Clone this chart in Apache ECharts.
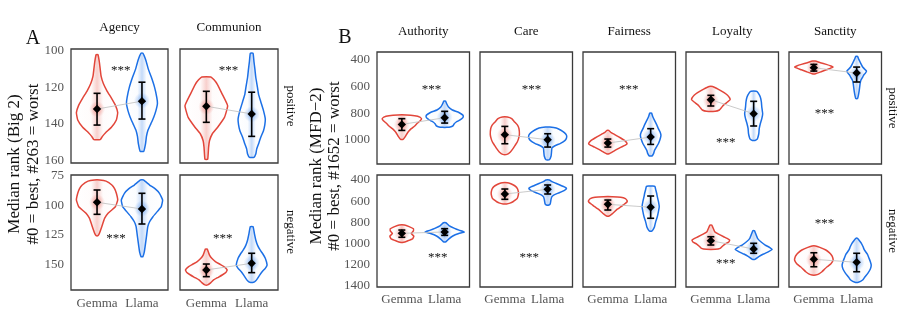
<!DOCTYPE html>
<html><head><meta charset="utf-8">
<script src="https://cdn.jsdelivr.net/npm/echarts@6/dist/echarts.min.js"></script>
<style>html,body{margin:0;padding:0;background:#fff}#c{width:914px;height:335px}</style>
</head><body><div id="c"></div><script>
// ---------- categories / labels ----------
const models = ['Gemma', 'Llama'];
const big2Traits = ['Agency', 'Communion'];
const mfdTraits = ['Authority', 'Care', 'Fairness', 'Loyalty', 'Sanctity'];
const valences = ['positive', 'negative'];
const big2Ticks = [[100, 120, 140, 160], [75, 100, 125, 150]];
const mfdTicks = [[400, 600, 800, 1000], [400, 600, 800, 1000, 1200, 1400]];
const big2Range = [[99.1, 161.6], [74.4, 171.8]];
const mfdRange = [[340, 1180], [352.8, 1409]];

// ---------- violin outlines: [median rank, half width (category units)] ----------
const agencyPosGemma = [[102.2,0.02],[106,0.05],[110,0.07],[114,0.09],[118,0.14],[122,0.22],[126,0.32],[130,0.41],[134,0.46],[138,0.43],[142,0.32],[145,0.19],[147,0.12],[148.8,0.07]];
const agencyPosLlama = [[101.4,0.02],[105.5,0.09],[110,0.14],[114.6,0.21],[120,0.28],[125.6,0.33],[129,0.345],[133,0.31],[136.6,0.26],[140,0.2],[143.9,0.13],[147,0.1],[151,0.08],[155.2,0.04]];
const communionPosGemma = [[114.4,0.1],[116,0.17],[118.3,0.24],[123.8,0.35],[130.2,0.47],[136.6,0.40],[142,0.25],[145.7,0.13],[149.4,0.07],[153,0.05],[159.6,0.03]];
const communionPosLlama = [[101.4,0.03],[106,0.05],[110,0.07],[114.6,0.09],[119,0.12],[123.8,0.15],[128,0.2],[132.9,0.26],[137.5,0.30],[140.5,0.29],[143.9,0.26],[147.5,0.2],[151.2,0.15],[154,0.11],[156.7,0.09],[158.5,0.05]];
const agencyNegGemma = [[78.6,0.06],[79.6,0.2],[82.9,0.33],[86,0.39],[89.9,0.43],[95.6,0.46],[101.2,0.41],[104,0.33],[106.8,0.245],[111,0.17],[115.3,0.13],[121,0.08],[124,0.05],[125.8,0.02]];
const agencyNegLlama = [[78.6,0.03],[82.9,0.17],[86,0.29],[89.9,0.39],[95.6,0.46],[101.2,0.43],[105,0.35],[109.7,0.245],[114,0.17],[118.2,0.13],[126.7,0.10],[135.1,0.07],[140,0.05],[143.6,0.02]];
const communionNegGemma = [[137.1,0.02],[142.2,0.07],[145,0.12],[147.8,0.2],[150,0.3],[152,0.39],[154.8,0.46],[157,0.43],[159.1,0.35],[161.3,0.25],[163.3,0.16],[165.5,0.1],[167.5,0.03]];
const communionNegLlama = [[118.2,0.03],[124,0.06],[129.4,0.09],[134,0.13],[137.9,0.185],[141.5,0.25],[144.9,0.30],[150.6,0.34],[153.5,0.3],[156.3,0.23],[159,0.18],[161.9,0.13],[164,0.09],[165.3,0.04]];

const authorityPosGemma = [[812,0.1],[818,0.3],[828,0.42],[842,0.46],[855,0.43],[878,0.35],[895,0.3],[915,0.22],[935,0.16],[953,0.12],[975,0.08],[995,0.03]];
const authorityPosLlama = [[708,0.02],[730,0.05],[753,0.09],[775,0.18],[790,0.31],[805,0.39],[815,0.43],[830,0.43],[840,0.40],[855,0.33],[865,0.27],[880,0.22],[892,0.2],[900,0.15],[905,0.05]];
const carePosGemma = [[828,0.06],[840,0.16],[865,0.23],[890,0.3],[915,0.33],[958,0.34],[990,0.32],[1015,0.29],[1040,0.24],[1065,0.19],[1090,0.13],[1108,0.05]];
const carePosLlama = [[903,0.05],[910,0.2],[925,0.3],[945,0.39],[965,0.44],[985,0.44],[1005,0.40],[1025,0.3],[1045,0.16],[1060,0.1],[1090,0.09],[1120,0.08],[1148,0.04]];
const fairnessPosGemma = [[928,0.02],[945,0.08],[965,0.19],[985,0.3],[1003,0.39],[1028,0.45],[1040,0.4],[1053,0.31],[1068,0.22],[1083,0.14],[1095,0.08],[1103,0.03]];
const fairnessPosLlama = [[798,0.02],[825,0.05],[853,0.09],[885,0.14],[915,0.18],[940,0.22],[965,0.24],[995,0.22],[1028,0.18],[1055,0.13],[1078,0.09],[1100,0.07],[1120,0.03]];
const loyaltyPosGemma = [[598,0.04],[612,0.13],[628,0.22],[645,0.31],[665,0.39],[685,0.44],[698,0.45],[715,0.39],[740,0.29],[760,0.24],[775,0.2],[785,0.1]];
const loyaltyPosLlama = [[635,0.06],[645,0.1],[678,0.155],[715,0.18],[753,0.19],[803,0.21],[840,0.19],[878,0.155],[915,0.13],[953,0.12],[980,0.1],[995,0.08],[1003,0.03]];
const sanctityPosGemma = [[408,0.03],[420,0.15],[433,0.29],[445,0.4],[453,0.45],[463,0.38],[473,0.29],[488,0.17],[503,0.04]];
const sanctityPosLlama = [[373,0.02],[395,0.05],[415,0.08],[435,0.11],[453,0.14],[470,0.19],[483,0.23],[500,0.2],[515,0.16],[528,0.14],[550,0.1],[578,0.08],[628,0.06],[665,0.04],[690,0.02]];

const authorityNegGemma = [[824,0.06],[840,0.17],[860,0.27],[880,0.27],[905,0.22],[930,0.28],[955,0.25],[975,0.13],[988,0.04]];
const authorityNegLlama = [[803,0.03],[830,0.1],[856,0.23],[875,0.35],[890,0.46],[905,0.33],[928,0.19],[955,0.1],[982,0.03]];
const careNegGemma = [[425,0.06],[435,0.14],[447,0.2],[460,0.25],[478,0.29],[500,0.31],[525,0.32],[550,0.31],[573,0.29],[590,0.24],[605,0.19],[618,0.12],[626,0.04]];
const careNegLlama = [[400,0.04],[415,0.1],[431,0.19],[450,0.3],[465,0.39],[478,0.44],[495,0.4],[520,0.27],[540,0.15],[557,0.1],[580,0.08],[605,0.07],[625,0.06],[636,0.03]];
const fairnessNegGemma = [[557,0.1],[562,0.3],[575,0.41],[595,0.45],[605,0.45],[620,0.41],[635,0.36],[652,0.31],[675,0.22],[699,0.155],[720,0.1],[740,0.03]];
const fairnessNegLlama = [[457,0.05],[462,0.1],[494,0.12],[525,0.14],[557,0.155],[600,0.18],[652,0.2],[700,0.18],[746,0.155],[790,0.12],[840,0.09],[865,0.06],[881,0.03]];
const loyaltyNegGemma = [[824,0.02],[850,0.05],[887,0.09],[910,0.18],[935,0.3],[950,0.38],[966,0.44],[985,0.42],[1004,0.33],[1025,0.27],[1045,0.22],[1054,0.1]];
const loyaltyNegLlama = [[878,0.02],[920,0.06],[950,0.09],[980,0.16],[1013,0.27],[1035,0.37],[1054,0.43],[1075,0.35],[1098,0.23],[1120,0.13],[1148,0.03]];
const sanctityNegGemma = [[1022,0.04],[1035,0.14],[1060,0.28],[1085,0.36],[1107,0.41],[1130,0.44],[1155,0.45],[1190,0.4],[1218,0.31],[1245,0.24],[1265,0.19],[1285,0.12],[1296,0.04]];
const sanctityNegLlama = [[950,0.02],[975,0.07],[997,0.11],[1030,0.15],[1060,0.18],[1100,0.25],[1139,0.29],[1170,0.32],[1202,0.34],[1240,0.32],[1280,0.26],[1315,0.19],[1343,0.14],[1365,0.04]];

// ---------- mean and error bar [mean, low, high] for Gemma, Llama ----------
const agencyPosStats = [[132.0,123.4,140.8],[127.7,117.3,137.5]];
const communionPosStats = [[130.5,122.3,139.3],[134.7,122.8,147.0]];
const agencyNegStats = [[97.5,87.1,107.7],[103.2,89.9,115.9]];
const communionNegStats = [[154.8,149.8,160.5],[149.2,140.7,157.1]];
const authorityPosStats = [[883,840,928],[833,785,873]];
const carePosStats = [[960,898,1028],[998,953,1053]];
const fairnessPosStats = [[1023,993,1053],[978,915,1033]];
const loyaltyPosStats = [[698,665,745],[803,710,895]];
const sanctityPosStats = [[458,433,483],[498,453,565]];
const authorityNegStats = [[903,872,940],[890,859,922]];
const careNegStats = [[532,485,582],[488,447,532]];
const fairnessNegStats = [[629,589,683],[657,551,761]];
const loyaltyNegStats = [[972,935,1013],[1051,997,1091]];
const sanctityNegStats = [[1148,1086,1218],[1176,1091,1265]];

// ---------- significance marks [x, rank] ----------
const agencyPosStar = [0.53, 109];
const communionPosStar = [0.49, 109];
const agencyNegStar = [0.42, 124.5];
const communionNegStar = [0.36, 124.5];
const authorityPosStar = [0.69, 590];
const carePosStar = [0.62, 590];
const fairnessPosStar = [0.49, 590];
const loyaltyPosStar = [0.35, 990];
const sanctityPosStar = [0.25, 770];
const authorityNegStar = [0.84, 1098];
const careNegStar = [0.57, 1098];
const fairnessNegStar = null;
const loyaltyNegStar = [0.35, 1152];
const sanctityNegStar = [0.25, 775];

// ---------- layout ----------
const FONT = "'Liberation Serif', 'DejaVu Serif', 'Times New Roman', serif";
const RED = [226, 70, 58];
const BLUE = [28, 112, 230];
const rgba = (c, a) => `rgba(${c[0]},${c[1]},${c[2]},${a})`;
const big2Lefts = [71, 180], big2Widths = [97, 98];
const big2Tops = [49, 175], big2Heights = [114, 115];
const mfdLefts = [377, 480, 583, 686, 789], mfdWidth = 92.5;
const mfdTops = [52, 175], mfdHeights = [112, 112];

const facets = [
  { set:'A', col:0, row:0, g:agencyPosGemma, l:agencyPosLlama, stats:agencyPosStats, star:agencyPosStar },
  { set:'A', col:1, row:0, g:communionPosGemma, l:communionPosLlama, stats:communionPosStats, star:communionPosStar },
  { set:'A', col:0, row:1, g:agencyNegGemma, l:agencyNegLlama, stats:agencyNegStats, star:agencyNegStar },
  { set:'A', col:1, row:1, g:communionNegGemma, l:communionNegLlama, stats:communionNegStats, star:communionNegStar },
  { set:'B', col:0, row:0, g:authorityPosGemma, l:authorityPosLlama, stats:authorityPosStats, star:authorityPosStar },
  { set:'B', col:1, row:0, g:carePosGemma, l:carePosLlama, stats:carePosStats, star:carePosStar },
  { set:'B', col:2, row:0, g:fairnessPosGemma, l:fairnessPosLlama, stats:fairnessPosStats, star:fairnessPosStar },
  { set:'B', col:3, row:0, g:loyaltyPosGemma, l:loyaltyPosLlama, stats:loyaltyPosStats, star:loyaltyPosStar },
  { set:'B', col:4, row:0, g:sanctityPosGemma, l:sanctityPosLlama, stats:sanctityPosStats, star:sanctityPosStar },
  { set:'B', col:0, row:1, g:authorityNegGemma, l:authorityNegLlama, stats:authorityNegStats, star:authorityNegStar },
  { set:'B', col:1, row:1, g:careNegGemma, l:careNegLlama, stats:careNegStats, star:careNegStar },
  { set:'B', col:2, row:1, g:fairnessNegGemma, l:fairnessNegLlama, stats:fairnessNegStats, star:fairnessNegStar },
  { set:'B', col:3, row:1, g:loyaltyNegGemma, l:loyaltyNegLlama, stats:loyaltyNegStats, star:loyaltyNegStar },
  { set:'B', col:4, row:1, g:sanctityNegGemma, l:sanctityNegLlama, stats:sanctityNegStats, star:sanctityNegStar }
];

function makeRender(f) {
  return function (params, api) {
    const children = [];
    const vs = [[f.g, f.stats[0], RED], [f.l, f.stats[1], BLUE]];
    vs.forEach(([prof, st, col], i) => {
      const right = prof.map(([y, w]) => api.coord([i + w, y]));
      const left = prof.slice().reverse().map(([y, w]) => api.coord([i - w, y]));
      children.push({
        type: 'polygon',
        shape: { points: right.concat(left), smooth: 0.12 },
        style: {
          fill: new echarts.graphic.LinearGradient(0, 0, 1, 0, [
            { offset: 0, color: rgba(col, 0) },
            { offset: 0.36, color: rgba(col, 0.02) },
            { offset: 0.5, color: rgba(col, 0.26) },
            { offset: 0.64, color: rgba(col, 0.02) },
            { offset: 1, color: rgba(col, 0) }
          ]),
          stroke: rgba(col, 1), lineWidth: 1.5, lineJoin: 'round'
        }
      });
      const t = api.coord([i, st[1]]), b = api.coord([i, st[2]]);
      children.push({
        type: 'ellipse',
        shape: { cx: t[0], cy: (t[1] + b[1]) / 2, rx: 8, ry: (b[1] - t[1]) / 2 + 4 },
        style: {
          fill: new echarts.graphic.RadialGradient(0.5, 0.5, 0.5, [
            { offset: 0, color: rgba(col, 0.45) },
            { offset: 1, color: rgba(col, 0) }
          ])
        }
      });
    });
    const m0 = api.coord([0, f.stats[0][0]]), m1 = api.coord([1, f.stats[1][0]]);
    children.push({ type: 'line', shape: { x1: m0[0], y1: m0[1], x2: m1[0], y2: m1[1] }, style: { stroke: '#c4c4c4', lineWidth: 0.9 } });
    vs.forEach(([prof, st], i) => {
      const t = api.coord([i, st[1]]), b = api.coord([i, st[2]]), m = api.coord([i, st[0]]);
      const cw = 3.5;
      children.push({ type: 'line', shape: { x1: t[0], y1: t[1], x2: b[0], y2: b[1] }, style: { stroke: '#000', lineWidth: 1.6 } });
      children.push({ type: 'line', shape: { x1: t[0] - cw, y1: t[1], x2: t[0] + cw, y2: t[1] }, style: { stroke: '#000', lineWidth: 1.6 } });
      children.push({ type: 'line', shape: { x1: b[0] - cw, y1: b[1], x2: b[0] + cw, y2: b[1] }, style: { stroke: '#000', lineWidth: 1.6 } });
      const d = 4.2;
      children.push({ type: 'polygon', shape: { points: [[m[0], m[1] - d], [m[0] + d, m[1]], [m[0], m[1] + d], [m[0] - d, m[1]]] }, style: { fill: '#000' } });
    });
    if (f.star) {
      const p = api.coord(f.star);
      children.push({ type: 'text', x: p[0], y: p[1] + 4, style: { text: '***', align: 'center', verticalAlign: 'middle', textAlign: 'center', textVerticalAlign: 'middle', font: '13px ' + FONT, fill: '#111' } });
    }
    return { type: 'group', children };
  };
}

const grid = [], xAxis = [], yAxis = [], series = [];
facets.forEach((f, i) => {
  const isA = f.set === 'A';
  const left = isA ? big2Lefts[f.col] : mfdLefts[f.col];
  const width = isA ? big2Widths[f.col] : mfdWidth;
  const top = isA ? big2Tops[f.row] : mfdTops[f.row];
  const height = isA ? big2Heights[f.row] : mfdHeights[f.row];
  const range = isA ? big2Range[f.row] : mfdRange[f.row];
  const ticks = isA ? big2Ticks[f.row] : mfdTicks[f.row];
  grid.push({ left, top, width, height, show: true, borderColor: '#3a3a3a', borderWidth: 1.3, containLabel: false });
  xAxis.push({
    type: 'value', gridIndex: i, min: -0.58, max: 1.58,
    axisLine: { show: false }, axisTick: { show: false }, splitLine: { show: false },
    axisLabel: { show: f.row === 1, customValues: [0, 1], formatter: v => models[Math.round(v)] || '', color: '#555', fontSize: 13, fontFamily: FONT, margin: isA ? 7 : 6 }
  });
  yAxis.push({
    type: 'value', gridIndex: i, inverse: true, min: range[0], max: range[1],
    axisLine: { show: false }, axisTick: { show: false }, splitLine: { show: false },
    axisLabel: { show: f.col === 0, customValues: ticks, formatter: v => String(v), color: '#555', fontSize: 13, fontFamily: FONT, margin: 7 }
  });
  series.push({
    type: 'custom', xAxisIndex: i, yAxisIndex: i, silent: true, clip: false,
    data: [[0.5, (range[0] + range[1]) / 2]], renderItem: makeRender(f)
  });
});

const txt = (text, x, y, size, opts = {}) => ({
  type: 'text', x, y, rotation: opts.rot || 0, silent: true,
  style: { text, font: `${size}px ${FONT}`, fill: opts.color || '#111', align: 'center', verticalAlign: 'middle', textAlign: 'center', textVerticalAlign: 'middle' }
});
const graphics = [
  txt('A', 33, 39, 20), txt('B', 345, 38, 20),
  txt(big2Traits[0], 119.5, 28, 13), txt(big2Traits[1], 229, 28, 13),
  ...mfdTraits.map((t, k) => txt(t, mfdLefts[k] + mfdWidth / 2, 32, 13)),
  txt(valences[0], 290, 106, 13, { rot: -Math.PI / 2 }),
  txt(valences[1], 290, 232, 13, { rot: -Math.PI / 2 }),
  txt(valences[0], 892, 108, 13, { rot: -Math.PI / 2 }),
  txt(valences[1], 892, 231, 13, { rot: -Math.PI / 2 }),
  txt('Median rank (Big 2)', 15, 164, 17, { rot: Math.PI / 2 }),
  txt('#0 = best, #263 = worst', 34, 164, 17, { rot: Math.PI / 2 }),
  txt('Median rank (MFD\u22122)', 317, 166, 17, { rot: Math.PI / 2 }),
  txt('#0 = best, #1652 = worst', 335, 166, 17, { rot: Math.PI / 2 })
];

const chart = echarts.init(document.getElementById('c'), null, { renderer: 'canvas' });
chart.setOption({
  animation: false,
  backgroundColor: '#fff',
  grid, xAxis, yAxis, series,
  graphic: { elements: graphics }
});
</script></body></html>
